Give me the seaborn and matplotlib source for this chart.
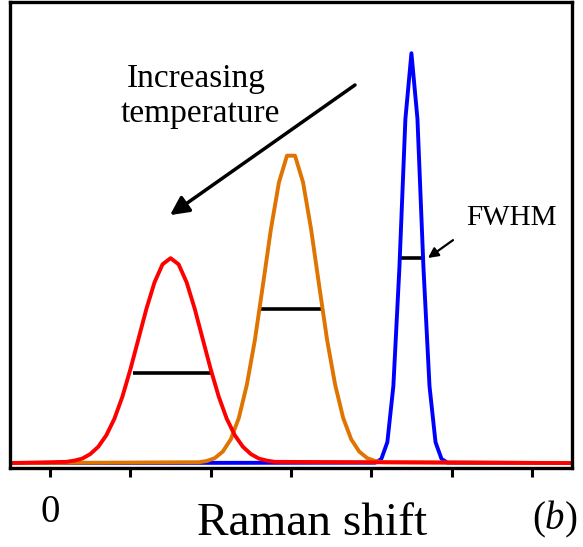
import matplotlib
matplotlib.use("Agg")
import matplotlib.pyplot as plt
import numpy as np
import pandas as pd
import seaborn as sns

# Raman spectra at three temperatures (arbitrary units)
red_x = [-0.5, 0.2, 0.3, 0.4, 0.5, 0.6, 0.7, 0.8, 0.9, 1.0, 1.1, 1.2, 1.3, 1.4, 1.5,
         1.6, 1.7, 1.8, 1.9, 2.0, 2.1, 2.2, 2.3, 2.4, 2.5, 2.6, 2.7, 2.8, 6.5]
red_y = [0, 0.003, 0.006, 0.011, 0.022, 0.040, 0.068, 0.108, 0.162, 0.229, 0.303, 0.377,
         0.441, 0.485, 0.500, 0.485, 0.441, 0.377, 0.303, 0.229, 0.162, 0.108, 0.068,
         0.040, 0.022, 0.011, 0.006, 0.003, 0]

orange_x = [-0.5, 1.85, 1.95, 2.05, 2.15, 2.25, 2.35, 2.45, 2.55, 2.65, 2.75, 2.85, 2.95,
            3.05, 3.15, 3.25, 3.35, 3.45, 3.55, 3.65, 3.75, 3.85, 3.95, 4.05, 4.15, 6.5]
orange_y = [0, 0.002, 0.005, 0.012, 0.028, 0.058, 0.110, 0.191, 0.300, 0.434, 0.571, 0.685,
            0.750, 0.750, 0.685, 0.571, 0.434, 0.300, 0.191, 0.110, 0.058, 0.028, 0.012,
            0.005, 0.002, 0]

blue_x = [-0.5, 4.05, 4.125, 4.2, 4.275, 4.35, 4.425, 4.5, 4.575, 4.65, 4.725, 4.8,
          4.875, 4.95, 6.5]
blue_y = [0, 0.001, 0.010, 0.051, 0.188, 0.476, 0.840, 1.0, 0.840, 0.476, 0.188, 0.051,
          0.010, 0.001, 0]

# Full-width-at-half-maximum markers
fwhm_level = [0.22, 0.375, 0.5]
fwhm_left = [1.03, 2.61, 4.355]
fwhm_right = [2.02, 3.39, 4.645]

tick_values = [0, 1, 2, 3, 4, 5, 6]
tick_labels = ["0", "", "", "", "", "", ""]

series_order = ["high", "mid", "low"]
palette = {"low": "#FF0000", "mid": "#DF7400", "high": "#0000FF"}

df = pd.concat([
    pd.DataFrame({"shift": blue_x, "intensity": blue_y, "series": "high"}),
    pd.DataFrame({"shift": orange_x, "intensity": orange_y, "series": "mid"}),
    pd.DataFrame({"shift": red_x, "intensity": red_y, "series": "low"}),
], ignore_index=True)

sns.set_theme(style="ticks")
plt.rcParams["font.family"] = ["Liberation Serif", "DejaVu Serif"]
plt.rcParams["text.color"] = "black"
plt.rcParams["xtick.color"] = "black"
plt.rcParams["xtick.labelcolor"] = "black"
plt.rcParams["mathtext.fontset"] = "custom"
plt.rcParams["mathtext.rm"] = "Liberation Serif"
plt.rcParams["mathtext.it"] = "Liberation Serif:italic"

W, H = 583, 547
fig = plt.figure(figsize=(W / 100, H / 100), dpi=100)
ax = fig.add_axes([10 / W, 79 / H, 562 / W, 466 / H])

ax.hlines(fwhm_level, fwhm_left, fwhm_right, color="black", lw=2.6, zorder=1.5)

sns.lineplot(data=df, x="shift", y="intensity", hue="series", hue_order=series_order,
             palette=palette, estimator=None, sort=False, lw=2.8, legend=False, ax=ax)

ax.set_xlim(-0.5, 6.5)
ax.set_ylim(-0.012, 1.125)
ax.set_xticks(tick_values)
ax.set_xticklabels(tick_labels)
ax.set_yticks([])
ax.set_xlabel("")
ax.set_ylabel("")
ax.tick_params(axis="x", direction="out", length=6.5, width=2.2, pad=12,
               labelsize=28, colors="black")
for s in ax.spines.values():
    s.set_visible(True)
    s.set_linewidth(2.4)
    s.set_color("black")

# Temperature trend arrow and caption
ax.annotate("", xy=(1.493, 0.605), xytext=(3.797, 0.9225),
            arrowprops=dict(arrowstyle="-|>", lw=2.5, color="black",
                            mutation_scale=28, shrinkA=0, shrinkB=0))
ax.text(1.82, 0.918, "Increasing", ha="center", va="baseline", fontsize=24)
ax.text(1.87, 0.833, "temperature", ha="center", va="baseline", fontsize=24)

# FWHM pointer
ax.annotate("", xy=(4.706, 0.5004), xytext=(5.018, 0.544),
            arrowprops=dict(arrowstyle="-|>", lw=1.6, color="black",
                            mutation_scale=15, shrinkA=0, shrinkB=0))
ax.text(5.18, 0.581, "FWHM", ha="left", va="baseline", fontsize=21)

fig.text(312 / W, (H - 535) / H, "Raman shift", ha="center", va="baseline", fontsize=34)
fig.text(555 / W, (H - 529) / H, r"($\it{b}$)", ha="center", va="baseline", fontsize=28)

fig.savefig("out.png", dpi=100)
